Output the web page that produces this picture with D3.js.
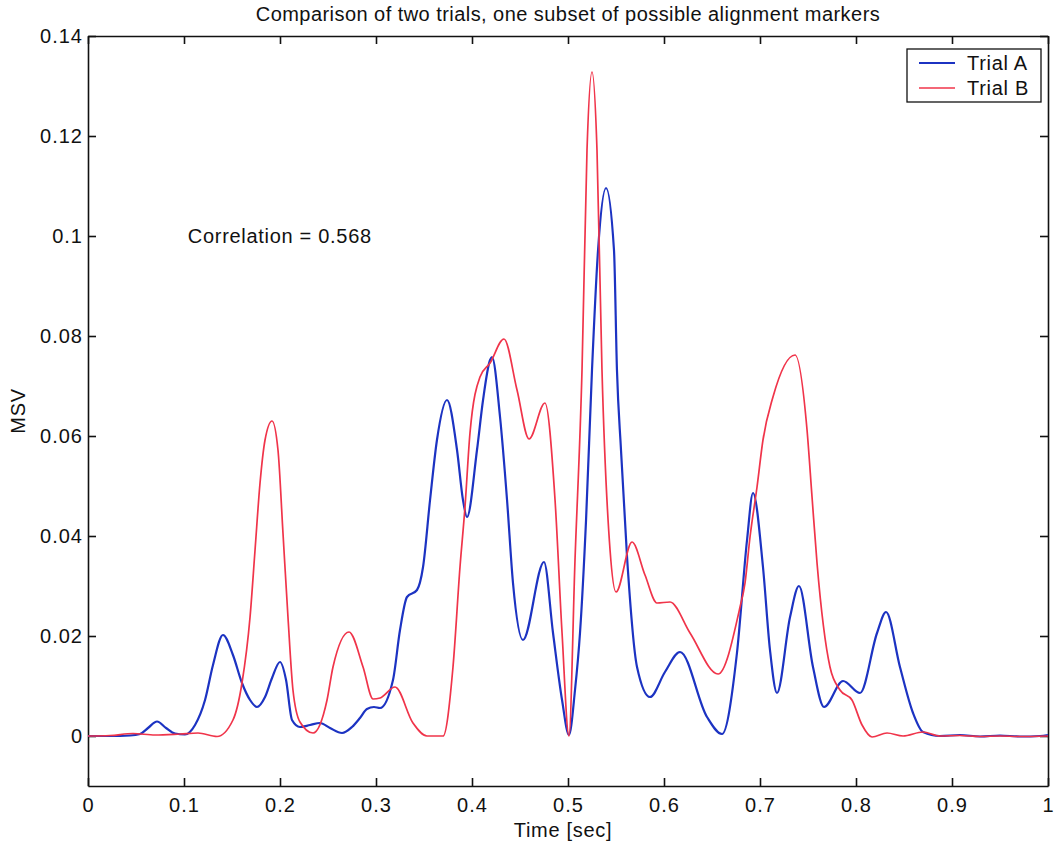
<!DOCTYPE html>
<meta charset="utf-8">
<head>
    <title>Comparison of two trials</title>
    <script src="https://d3js.org/d3.v7.min.js"></script>
    <style>
        body { margin: 0; background: #fff; }
        text { font-family: "Liberation Sans", Arial, Helvetica, sans-serif; fill: #111; letter-spacing: 0.7px; }
    </style>
</head>

<body>
    <div id="svg-container"></div>
</body>

<script>

const width = 1057;
const height = 845;
const margin = { top: 36, right: 9, bottom: 59, left: 88 };

// time [sec] and MSV for trial A (blue)
const timeA = [0, 0.0229, 0.0438, 0.0542, 0.0625, 0.0719, 0.0813, 0.0906, 0.101, 0.1115,
    0.1219, 0.1302, 0.1406, 0.151, 0.1604, 0.1688, 0.176, 0.1844, 0.1917, 0.2,
    0.2063, 0.2125, 0.2208, 0.2313, 0.2417, 0.2521, 0.2646, 0.275, 0.2833, 0.2906,
    0.2979, 0.3042, 0.3177, 0.325, 0.3323, 0.3427, 0.349, 0.3563, 0.3635, 0.374,
    0.3844, 0.3906, 0.3948, 0.4052, 0.4115, 0.4188, 0.4208, 0.4292, 0.4365, 0.4427,
    0.4531, 0.475, 0.4844, 0.4938, 0.501, 0.5073, 0.5125, 0.5188, 0.525,
    0.5313, 0.5396, 0.5479, 0.551, 0.5552, 0.5615, 0.5719, 0.5854, 0.601, 0.6167,
    0.6448, 0.6604, 0.676, 0.6865, 0.6927, 0.7031, 0.7104, 0.7177, 0.7313, 0.7406,
    0.7552, 0.7667, 0.7865, 0.8042, 0.8219, 0.8313, 0.8458, 0.8594, 0.8698, 0.8875,
    0.9083, 0.9292, 0.95, 0.9708, 0.9917, 1];
const msvA = [0, 0, 0.0001, 0.0004, 0.0016, 0.0029, 0.0016, 0.0005, 0.0003, 0.0022,
    0.0072, 0.0142, 0.0202, 0.0162, 0.0106, 0.0072, 0.0058, 0.0078, 0.0116, 0.0148,
    0.0112, 0.0032, 0.0018, 0.0022, 0.0026, 0.0016, 0.0006, 0.0018, 0.0036, 0.0054,
    0.0058, 0.0056, 0.0112, 0.0212, 0.0278, 0.0292, 0.0338, 0.0472, 0.0592, 0.0672,
    0.0572, 0.0472, 0.0438, 0.0572, 0.0672, 0.0752, 0.0758, 0.0638, 0.0472, 0.0306,
    0.0192, 0.0348, 0.0206, 0.0072, 0.0002, 0.0092, 0.0206, 0.0432, 0.0732,
    0.0972, 0.1096, 0.0972, 0.0732, 0.0572, 0.0358, 0.0138, 0.0078, 0.0128, 0.0168,
    0.0038, 0.0004, 0.0166, 0.0392, 0.0486, 0.0338, 0.0172, 0.0086, 0.0238, 0.03,
    0.0138, 0.0058, 0.011, 0.0086, 0.0206, 0.0248, 0.0138, 0.0046, 0.0008, 0,
    0.0002, -0.0001, 0.0001, -0.0001, 0, 0.0002];

// time [sec] and MSV for trial B (red)
const timeB = [0, 0.0229, 0.0469, 0.0698, 0.0958, 0.1146, 0.1344, 0.151, 0.1604, 0.1688,
    0.174, 0.1792, 0.1844, 0.1917, 0.1979, 0.2031, 0.2083, 0.2135, 0.2208, 0.2344,
    0.249, 0.2552, 0.2719, 0.2865, 0.2969, 0.3042, 0.3198, 0.3385, 0.3531, 0.3698,
    0.3802, 0.3875, 0.3927, 0.3979, 0.4083, 0.4188, 0.4333, 0.4469, 0.4594, 0.476,
    0.4865, 0.4938, 0.501, 0.5073, 0.5146, 0.5198, 0.525, 0.5302, 0.5354, 0.5438,
    0.55, 0.5667, 0.5802, 0.5927, 0.6063, 0.6271, 0.6563, 0.6792, 0.6844, 0.6896,
    0.6969, 0.7031, 0.7135, 0.7365, 0.749, 0.7542, 0.7594, 0.7729, 0.7833, 0.7958,
    0.8063, 0.8167, 0.8323, 0.849, 0.8698, 0.8875, 0.9083, 0.9292, 0.95, 0.9708, 1];
const msvB = [0, 0.0001, 0.0005, 0.0002, 0.0004, 0.0006, -0.0001, 0.0032, 0.0106, 0.0238,
    0.0372, 0.0506, 0.0592, 0.063, 0.0572, 0.0406, 0.0238, 0.0092, 0.0028, 0.0006,
    0.0072, 0.0138, 0.0208, 0.0138, 0.0074, 0.0076, 0.0098, 0.0026, 0, 0,
    0.0138, 0.0338, 0.0458, 0.0606, 0.0718, 0.0746, 0.0794, 0.0692, 0.0594, 0.0666,
    0.0472, 0.0206, 0, 0.0352, 0.0732, 0.1172, 0.1328, 0.1172, 0.0732, 0.0372,
    0.0288, 0.0388, 0.0322, 0.0266, 0.0268, 0.0206, 0.0124, 0.0258, 0.0306, 0.0398,
    0.0498, 0.0592, 0.0678, 0.0762, 0.0612, 0.0478, 0.0346, 0.0138, 0.0092, 0.0072,
    0.0022, -0.0002, 0.0006, 0, 0.0008, 0, 0.0001, -0.0001, 0, -0.0001, 0];

const xTicks = [0, 0.1, 0.2, 0.3, 0.4, 0.5, 0.6, 0.7, 0.8, 0.9, 1];
const yTicks = [0, 0.02, 0.04, 0.06, 0.08, 0.1, 0.12, 0.14];
const seriesNames = ["Trial A", "Trial B"];
const seriesColors = ["#1c33c2", "#f0344a"];

const chartTitle = "Comparison of two trials, one subset of possible alignment markers";
const correlation = "Correlation = 0.568";

const innerW = width - margin.left - margin.right;
const innerH = height - margin.top - margin.bottom;

const svg = d3.select("#svg-container")
              .append("svg")
                .attr("width", width)
                .attr("height", height);

const g = svg.append("g")
                .attr("transform", `translate(${margin.left},${margin.top})`);

const x = d3.scaleLinear().domain([0, 1]).range([0, innerW]);
const y = d3.scaleLinear().domain([-0.01, 0.14]).range([innerH, 0]);

// frame with inward ticks on all four sides
const fmtY = function(d) { return d === 0 ? "0" : d3.format(".2~f")(d); };
const fmtX = function(d) { return d === 0 || d === 1 ? String(d) : d3.format(".1f")(d); };

g.append("g")
    .attr("class", "axis")
    .attr("transform", `translate(0,${innerH})`)
    .call(d3.axisBottom(x).tickValues(xTicks).tickFormat(fmtX).tickSizeInner(-8).tickSizeOuter(0).tickPadding(12));
g.append("g")
    .attr("class", "axis")
    .call(d3.axisTop(x).tickValues(xTicks).tickFormat("").tickSizeInner(-8).tickSizeOuter(0));
g.append("g")
    .attr("class", "axis")
    .call(d3.axisLeft(y).tickValues(yTicks).tickFormat(fmtY).tickSizeInner(-8).tickSizeOuter(0).tickPadding(5));
g.append("g")
    .attr("class", "axis")
    .attr("transform", `translate(${innerW},0)`)
    .call(d3.axisRight(y).tickValues(yTicks).tickFormat("").tickSizeInner(-8).tickSizeOuter(0));

g.selectAll(".axis path, .axis line")
    .attr("stroke", "#111")
    .attr("stroke-width", 1.6);
g.selectAll(".axis text")
    .attr("font-size", 20)
    .attr("font-family", "Liberation Sans, Arial, sans-serif")
    .style("letter-spacing", "1px")
    .attr("fill", "#111");

// the two trials
const line = d3.line()
                .x(function(d) { return x(d[0]); })
                .y(function(d) { return y(d[1]); })
                .curve(d3.curveMonotoneX);

const seriesData = [d3.zip(timeA, msvA), d3.zip(timeB, msvB)];

g.selectAll(".trial")
    .data(seriesData).enter()
    .append("path")
        .attr("class", "trial")
        .attr("d", line)
        .attr("fill", "none")
        .attr("stroke", function(d, i) { return seriesColors[i]; })
        .attr("stroke-width", function(d, i) { return i === 0 ? 2.2 : 1.7; })
        .attr("stroke-linejoin", "round");

// texts
svg.append("text")
    .attr("x", 568)
    .attr("y", 21)
    .attr("text-anchor", "middle")
    .attr("font-size", 20)
    .style("letter-spacing", "0.45px")
    .text(chartTitle);

svg.append("text")
    .attr("x", 563)
    .attr("y", 837)
    .attr("text-anchor", "middle")
    .attr("font-size", 20)
    .text("Time [sec]");

svg.append("text")
    .attr("transform", `translate(25,${margin.top + y(0.065)}) rotate(-90)`)
    .attr("text-anchor", "middle")
    .attr("font-size", 20)
    .text("MSV");

g.append("text")
    .attr("x", x(0.104))
    .attr("y", y(0.1) + 7)
    .attr("font-size", 20)
    .text(correlation);

// legend
const legend = svg.append("g")
                    .attr("transform", "translate(907,49)");
legend.append("rect")
    .attr("width", 134)
    .attr("height", 53)
    .attr("fill", "#fff")
    .attr("stroke", "#111")
    .attr("stroke-width", 1.3);

const items = legend.selectAll(".item")
                    .data(seriesNames).enter()
                    .append("g")
                        .attr("class", "item")
                        .attr("transform", function(d, i) { return `translate(0,${14 + i * 25})`; });
items.append("line")
    .attr("x1", 12).attr("x2", 48)
    .attr("stroke", function(d, i) { return seriesColors[i]; })
    .attr("stroke-width", function(d, i) { return i === 0 ? 2.2 : 1.7; });
items.append("text")
    .attr("x", 60)
    .attr("dy", "0.35em")
    .attr("font-size", 20)
    .text(function(d) { return d; });
</script>
